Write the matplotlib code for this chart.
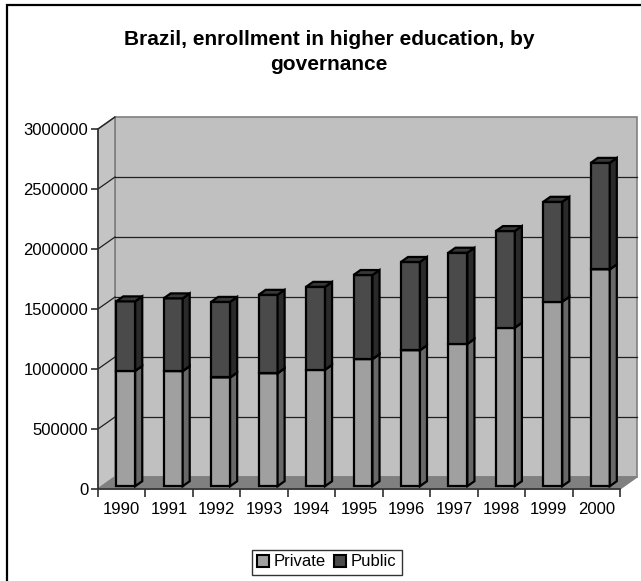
import matplotlib.pyplot as plt
from matplotlib.patches import Polygon, Rectangle, Patch

# Brazil higher-education enrollment by governance
years = ["1990", "1991", "1992", "1993", "1994", "1995", "1996", "1997", "1998", "1999", "2000"]
private = [961455, 959320, 906126, 941152, 970584, 1059163, 1133102, 1186433, 1321229, 1537923, 1807219]
public = [578625, 605736, 629662, 653516, 690450, 700540, 735427, 759182, 804729, 832022, 887026]
yticks = [0, 500000, 1000000, 1500000, 2000000, 2500000, 3000000]

plt.rcParams['font.family'] = ['Liberation Sans', 'DejaVu Sans']

# 3d look: depth offset in data units (x in categories, y in values)
DX, DY = 0.358, 100000
D0, D1 = 0.235, 0.65
BAR_W = 0.4

fig = plt.figure(figsize=(6.41, 5.81), dpi=100)
ax = fig.add_axes([98 / 641, 1 - 489 / 581, 522 / 641, 360 / 581])
n = len(years)
x0, x1 = -0.5, n - 0.5
ymax = yticks[-1]
ax.set_xlim(x0, x1)
ax.set_ylim(0, ymax)


def poly(pts, fc, ec, lw=1.0, z=1):
    ax.add_patch(Polygon(pts, closed=True, facecolor=fc, edgecolor=ec,
                         linewidth=lw, zorder=z, clip_on=False))


# walls and floor
poly([(x0 + DX, DY), (x1 + DX, DY), (x1 + DX, ymax + DY), (x0 + DX, ymax + DY)], '#c0c0c0', '#808080', 1.2, 0)
poly([(x0, 0), (x0 + DX, DY), (x0 + DX, ymax + DY), (x0, ymax)], '#c4c4c4', '#808080', 1.2, 0)
poly([(x0, 0), (x1, 0), (x1 + DX, DY), (x0 + DX, DY)], '#808080', '#808080', 1.0, 0.5)

# gridlines on the walls
for v in yticks[1:-1]:
    ax.plot([x0 + DX, x1 + DX], [v + DY, v + DY], color='#202020', lw=0.9, zorder=0.6, clip_on=False)
for v in yticks[1:]:
    ax.plot([x0, x0 + DX], [v, v + DY], color='#202020', lw=0.9, zorder=0.6, clip_on=False)

# stacked 3d bars
def bar3d(i, bottom, h, front, side, top):
    ox, oy = D0 * DX, D0 * DY
    sx, sy = (D1 - D0) * DX, (D1 - D0) * DY
    l = i - BAR_W / 2 + ox
    r = i + BAR_W / 2 + ox
    b = bottom + oy
    t = bottom + h + oy
    poly([(l, b), (r, b), (r, t), (l, t)], front, 'black', 1.6, 2)
    poly([(r, b), (r + sx, b + sy), (r + sx, t + sy), (r, t)], side, 'black', 1.6, 2)
    poly([(l, t), (r, t), (r + sx, t + sy), (l + sx, t + sy)], top, 'black', 1.6, 2)


for i in range(n):
    bar3d(i, 0, private[i], '#a0a0a0', '#686868', '#8a8a8a')
    bar3d(i, private[i], public[i], '#4a4a4a', '#2a2a2a', '#383838')

# front axes
for s in ['top', 'right']:
    ax.spines[s].set_visible(False)
for s in ['left', 'bottom']:
    ax.spines[s].set_color('#303030')
    ax.spines[s].set_linewidth(1.2)
    ax.spines[s].set_zorder(3)
ax.set_facecolor('none')
ax.set_yticks(yticks)
ax.set_yticklabels([str(v) for v in yticks], fontsize=12)
ax.set_xticks(range(n))
ax.set_xticklabels(years, fontsize=12)
ax.set_xticks([k - 0.5 for k in range(n + 1)], minor=True)
ax.tick_params(axis='x', which='major', length=0, pad=9)
ax.tick_params(axis='x', which='minor', length=6, width=1.2, color='#303030', direction='out')
ax.tick_params(axis='y', length=5, width=1.2, color='#303030', pad=2)

# title
fig.text(329 / 641, 1 - 52 / 581, "Brazil, enrollment in higher education, by\ngovernance",
         ha='center', va='center', fontsize=15, fontweight='bold', linespacing=1.35)

# legend
handles = [Patch(facecolor='#a0a0a0', edgecolor='black', linewidth=1.5, label='Private'),
           Patch(facecolor='#4a4a4a', edgecolor='black', linewidth=1.5, label='Public')]
leg = fig.legend(handles=handles, loc='center', bbox_to_anchor=(327 / 641, 1 - 562 / 581),
                 ncol=2, fontsize=12, frameon=True, fancybox=False, handlelength=0.7,
                 handleheight=0.7, handletextpad=0.3, columnspacing=0.5, borderpad=0.3,
                 borderaxespad=0)
leg.get_frame().set_edgecolor('black')
leg.get_frame().set_linewidth(1.0)

# outer chart border (cropped on right and bottom)
fig.add_artist(Rectangle((7 / 641, -0.1), 1.1, 1.1 - 5 / 581, transform=fig.transFigure,
                         fill=False, edgecolor='black', linewidth=1.6))

fig.savefig('out.png', dpi=100)
